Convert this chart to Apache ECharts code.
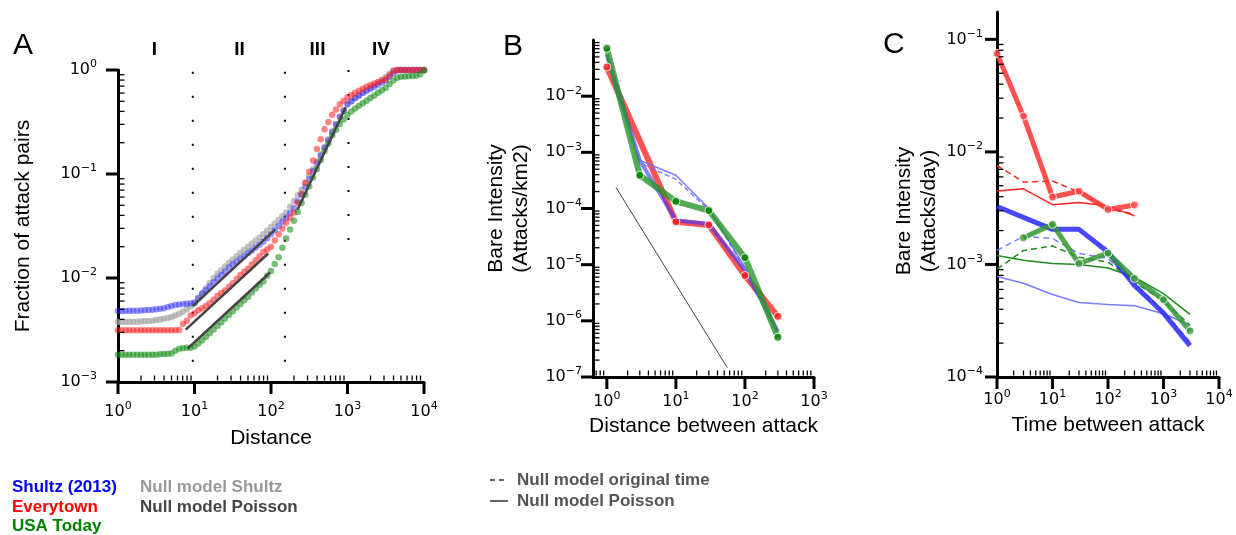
<!DOCTYPE html>
<html><head><meta charset="utf-8">
<script src="https://cdn.jsdelivr.net/npm/echarts@6/dist/echarts.min.js"></script>
<style>html,body{margin:0;padding:0;background:#fff}#c{width:1236px;height:535px}</style>
</head><body><div id="c"></div>
<script>
// ---------- Panel A: cumulative fraction of attack pairs vs distance ----------
const distance = [1,1.12,1.26,1.41,1.58,1.78,2,2.24,2.51,2.82,3.16,3.55,3.98,4.47,5.01,5.62,6.31,7.08,7.94,8.91,
  10,11.2,12.6,14.1,15.8,17.8,20,22.4,25.1,28.2,31.6,35.5,39.8,44.7,50.1,56.2,63.1,70.8,79.4,89.1,
  100,112,126,141,158,178,200,224,251,282,316,355,398,447,501,562,631,708,794,891,
  1000,1122,1259,1413,1585,1778,1995,2239,2512,2818,3162,3548,3981,4467,5012,5623,6310,7079,7943,8913,10000];
const shultzFrac = [0.00482,0.00482,0.00482,0.00483,0.00484,0.00485,0.00488,0.0049,0.00492,0.00495,
  0.00501,0.00507,0.00513,0.00525,0.00537,0.0055,0.00556,0.00562,0.00565,0.00571,
  0.00582,0.00646,0.00708,0.00767,0.00832,0.00912,0.00989,0.0107,0.0115,0.0126,
  0.0135,0.0143,0.0153,0.0162,0.0174,0.0184,0.0197,0.0209,0.0224,0.0243,
  0.0263,0.0288,0.0316,0.0347,0.038,0.0422,0.0468,0.0543,0.0631,0.075,
  0.0891,0.106,0.126,0.15,0.178,0.211,0.251,0.299,0.355,0.407,
  0.468,0.501,0.537,0.569,0.603,0.631,0.661,0.692,0.724,0.759,
  0.794,0.861,0.933,0.989,1,1,1,1,1,1,1];
const nullShultzFrac = [0.00378,0.00378,0.00378,0.00379,0.0038,0.0038,0.00382,0.00385,0.00387,0.00389,
  0.00394,0.00398,0.00405,0.00412,0.00422,0.00435,0.00452,0.00473,0.00501,0.00531,
  0.00569,0.00631,0.00708,0.00794,0.00891,0.01,0.011,0.0119,0.0129,0.014,
  0.0151,0.0162,0.0174,0.0186,0.02,0.0214,0.0229,0.0245,0.0263,0.0285,
  0.0309,0.0335,0.0363,0.0394,0.0427,0.0484,0.055,0.0624,0.0708,0.0822,
  0.0955,0.112,0.132,0.155,0.182,0.216,0.257,0.302,0.355,0.407,
  0.468,0.501,0.537,0.569,0.603,0.638,0.676,0.716,0.759,0.804,
  0.851,0.923,0.989,1,1,1,1,1,1,1,1];
const everytownFrac = [0.00315,0.00315,0.00315,0.00315,0.00315,0.00315,0.00315,0.00315,0.00315,0.00315,
  0.00315,0.00315,0.00315,0.00315,0.00315,0.00315,0.00316,0.00363,0.00389,0.00437,
  0.00457,0.0049,0.00513,0.00537,0.00575,0.00617,0.00676,0.00716,0.00759,0.00822,
  0.00891,0.00977,0.0107,0.0115,0.0123,0.0135,0.0148,0.0162,0.0178,0.0188,
  0.02,0.0229,0.0263,0.0299,0.0339,0.038,0.0427,0.0525,0.0646,0.0822,
  0.105,0.135,0.174,0.216,0.269,0.316,0.372,0.417,0.468,0.507,
  0.543,0.575,0.603,0.631,0.661,0.692,0.716,0.741,0.767,0.794,
  0.822,0.891,0.977,1,1,1,1,1,1,1,1];
const usaTodayFrac = [0.00183,0.00183,0.00183,0.00183,0.00183,0.00183,0.00183,0.00183,0.00183,0.00183,
  0.00183,0.00185,0.00186,0.00187,0.00188,0.002,0.00209,0.00211,0.00213,0.00214,
  0.00219,0.00234,0.00251,0.00272,0.00295,0.0032,0.00347,0.00376,0.00407,0.00442,
  0.00479,0.00519,0.00562,0.0061,0.00661,0.00724,0.00794,0.00861,0.00933,0.0105,
  0.0117,0.0136,0.0158,0.0195,0.024,0.0292,0.0355,0.0432,0.0525,0.0631,
  0.0759,0.0923,0.112,0.136,0.166,0.197,0.234,0.266,0.302,0.335,
  0.372,0.398,0.427,0.452,0.479,0.507,0.537,0.569,0.603,0.638,
  0.676,0.733,0.794,0.841,0.861,0.867,0.871,0.875,0.881,0.912,0.99];
// Null model Poisson fits (segment end points)
const poissonFitA = [
  [[9.5,0.00536],[114,0.0293]],
  [[7.67,0.00319],[92,0.0172]],
  [[8.15,0.0021],[97,0.0113]],
  [[223,0.0456],[947,0.4375]]
];
// regime boundaries (dotted lines) and labels
const regimeX = [9.5, 152, 1030];
const regimeTop = [0.96, 0.96, 1];
const regimeBottom = [0.00156, 0.00156, 0.0148];
const regimeLabels = ['I', 'II', 'III', 'IV'];

// ---------- Panel B: bare intensity vs distance ----------
const bDist = [1,3,10,30,100,300];
const bDistRed = [1,10,30,100,300];
const bEverytown = [0.033,5.8e-5,5.1e-5,6.4e-6,1.2e-6];
const bUsaToday = [0.071,3.9e-4,1.34e-4,9.2e-5,1.33e-5,5.1e-7];
const bShultz = [0.055,7.2e-4,6.2e-5,5.3e-5,8e-6,6.5e-7];
const bShultzNullPoisson = [0.05,7.2e-4,3.9e-4,1.0e-4,9e-6,6.8e-7];
const bShultzNullTime = [0.045,6.5e-4,3.3e-4,9.5e-5,8.5e-6,6.5e-7];
const bGuide = [[1.36,2.36e-4],[55.6,1.46e-7]];

// ---------- Panel C: bare intensity vs time ----------
const cTime = [1,3,10,30,100,300,1000,3000];
const cTimeRed = [1,3,10,30,100,300];
const cTimeBlue = [1,10,30,100,300,1000,3000];
const cTimeGreen = [3,10,30,100,300,1000,3000];
const cEverytown = [0.075,0.0208,0.00397,0.00447,0.00308,0.00338];
const cEverytownNullTime = [0.0076,0.0054,0.0055,0.0044,0.0031,0.0028];
const cEverytownNullPoisson = [0.0045,0.0047,0.0034,0.00355,0.0033,0.0027];
const cShultz = [0.00327,0.00205,0.00205,0.00129,6.5e-4,3.7e-4,1.9e-4];
const cShultzNullTime = [1.33e-3,1.78e-3,1.7e-3,1.25e-3,1.13e-3,6.9e-4,3.8e-4,2.05e-4];
const cShultzNullPoisson = [7.8e-4,6.8e-4,5.4e-4,4.6e-4,4.4e-4,4.3e-4,3.65e-4,2.9e-4];
const cUsaToday = [1.73e-3,2.27e-3,1.02e-3,1.26e-3,7.5e-4,4.86e-4,2.57e-4];
const cUsaTodayNullTime = [9.1e-4,1.33e-3,1.46e-3,1.16e-3,1.05e-3,7e-4,4.7e-4,2.9e-4];
const cUsaTodayNullPoisson = [1.2e-3,1.09e-3,1.02e-3,1.0e-3,9.3e-4,7.7e-4,5.5e-4,3.6e-4];

// ---------- axis tick values ----------
const aMajorX = [1,10,100,1000,10000], aMajorY = [0.001,0.01,0.1,1];
const bMajorX = [1,10,100,1000], bMajorY = [1e-7,1e-6,1e-5,1e-4,1e-3,1e-2];
const cMajorX = [1,10,100,1000,10000], cMajorY = [1e-4,1e-3,1e-2,1e-1];
const axisRange = { A:{x:[1,10000], y:[0.001,1]}, B:{x:[0.63,1000], y:[1e-7,0.1]}, C:{x:[1,10000], y:[1e-4,0.175]} };

function minors(lo, hi) {
  const out = [];
  for (let e = Math.floor(Math.log10(lo)); e <= Math.ceil(Math.log10(hi)); e++)
    for (let m = 2; m <= 9; m++) { const v = +(m * Math.pow(10, e)).toPrecision(3); if (v > lo * 1.0001 && v < hi * 0.9999) out.push(v); }
  return out;
}
const zip = (xs, ys) => xs.map((x, i) => [x, ys[i]]);
const supIn = labels => v => {
  if (!labels.some(t => Math.abs(t / v - 1) < 1e-6)) return '';
  const e = Math.round(Math.log10(v));
  return '{b|10}{s|' + (e < 0 ? '\u2212' + (-e) : e) + '}';
};
const rich = { b:{fontFamily:'DejaVu Sans', fontSize:16, lineHeight:22, color:'#000'}, s:{fontFamily:'DejaVu Sans', fontSize:11, lineHeight:14, verticalAlign:'top', color:'#000'} };
const TF = 'Liberation Sans';

function xAx(gi, r, labels, name, gap, margin) {
  return { type:'log', logBase:10, gridIndex:gi, min:r[0], max:r[1], position:'bottom',
    axisLine:{show:true, onZero:false, lineStyle:{color:'#000', width:3}}, axisTick:{show:false}, splitLine:{show:false}, minorTick:{show:false},
    axisLabel:{formatter:supIn(labels), rich:rich, margin:margin, showMinLabel:true, showMaxLabel:true},
    name:name, nameLocation:'middle', nameGap:gap, nameTextStyle:{fontFamily:TF, fontSize:21, color:'#000'} };
}
function yAx(gi, r, labels, name, gap, margin, pad) {
  return { type:'log', logBase:10, gridIndex:gi, min:r[0], max:r[1], position:'left',
    axisLine:{show:true, onZero:false, lineStyle:{color:'#000', width:3}}, axisTick:{show:false}, splitLine:{show:false}, minorTick:{show:false},
    axisLabel:{formatter:supIn(labels), rich:rich, margin:margin, showMinLabel:true, showMaxLabel:true},
    name:name, nameLocation:'middle', nameGap:gap, nameTextStyle:{fontFamily:TF, fontSize:21, color:'#000', lineHeight:25, padding:pad || 0} };
}
function tickSeries(gi, dim, vals, other, size, offset) {
  return { type:'scatter', xAxisIndex:gi, yAxisIndex:gi, silent:true, clip:false, z:6,
    data: vals.map(v => dim === 'x' ? [v, other] : [other, v]),
    symbol:'rect', symbolSize:size, symbolOffset:offset, itemStyle:{color:'#000', opacity:1} };
}
function ticksFor(gi, R, mx, my) {
  return [
    tickSeries(gi, 'x', mx, R.y[0], [3, 12], [0, 6]),
    tickSeries(gi, 'x', minors(R.x[0], R.x[1]), R.y[0], [1.3, 5], [0, -4]),
    tickSeries(gi, 'y', my, R.x[0], [12, 3], [-6, 0]),
    tickSeries(gi, 'y', minors(R.y[0], R.y[1]), R.x[0], [5, 1.3], [4, 0])
  ];
}
function line(gi, xs, ys, color, width, dash, z) {
  return { type:'line', xAxisIndex:gi, yAxisIndex:gi, data:zip(xs, ys), showSymbol:false, symbol:'none', z:z || 2,
    lineStyle:{color:color, width:width, type:dash || 'solid'}, silent:true };
}
function markers(gi, xs, ys, color, z) {
  return { type:'scatter', xAxisIndex:gi, yAxisIndex:gi, data:zip(xs, ys), symbol:'circle', symbolSize:8, z:z || 4,
    itemStyle:{color:color, borderColor:'#fff', borderWidth:1}, silent:true };
}
function dots(gi, ys, color) {
  return { type:'scatter', xAxisIndex:gi, yAxisIndex:gi, data:zip(distance, ys), symbol:'circle', symbolSize:6.5,
    itemStyle:{color:color}, silent:true, z:2 };
}

const series = [];
// Panel A
series.push(dots(0, nullShultzFrac, 'rgba(165,165,165,0.85)'));
series.push(dots(0, shultzFrac, 'rgba(40,40,255,0.6)'));
series.push(dots(0, everytownFrac, 'rgba(255,30,30,0.68)'));
series.push(dots(0, usaTodayFrac, 'rgba(20,140,20,0.72)'));
poissonFitA.forEach(seg => series.push({ type:'line', xAxisIndex:0, yAxisIndex:0, data:seg, symbol:'none', z:4, silent:true, lineStyle:{color:'#444', width:2.5} }));
regimeX.forEach((x, i) => series.push({ type:'line', xAxisIndex:0, yAxisIndex:0, data:[[x, regimeTop[i]],[x, regimeBottom[i]]], symbol:'none', z:1, silent:true,
  lineStyle:{color:'#000', width:2, type:[2, 22], cap:'butt'} }));
// Panel B
series.push(line(1, bDistRed, bEverytown, 'rgba(255,40,40,0.8)', 6, 'solid', 2));
series.push(line(1, bDist, bShultz, 'rgba(50,50,255,0.6)', 4, 'solid', 3));
series.push(line(1, bDist, bShultzNullPoisson, 'rgba(110,110,255,0.9)', 1.5, 'solid', 3));
series.push(line(1, bDist, bShultzNullTime, 'rgba(110,110,255,0.9)', 1.5, [5, 3], 3));
series.push(line(1, bDist, bUsaToday, 'rgba(40,150,40,0.8)', 6, 'solid', 3));
series.push(markers(1, bDistRed, bEverytown, '#ff1a1a', 4));
series.push(markers(1, bDist, bUsaToday, '#008000', 4));
series.push({ type:'line', xAxisIndex:1, yAxisIndex:1, data:bGuide, symbol:'none', silent:true, lineStyle:{color:'#444', width:1} });
// Panel C
series.push(line(2, cTime, cShultzNullPoisson, 'rgba(110,110,255,0.9)', 1.5, 'solid', 2));
series.push(line(2, cTime, cShultzNullTime, 'rgba(110,110,255,0.9)', 1.5, [6, 4], 2));
series.push(line(2, cTime, cUsaTodayNullPoisson, '#1e8c1e', 1.5, 'solid', 2));
series.push(line(2, cTime, cUsaTodayNullTime, '#1e8c1e', 1.5, [6, 4], 2));
series.push(line(2, cTimeRed, cEverytownNullPoisson, '#ff2020', 1.5, 'solid', 2));
series.push(line(2, cTimeRed, cEverytownNullTime, '#ff2020', 1.5, [6, 4], 2));
series.push(line(2, cTimeBlue, cShultz, 'rgba(40,40,255,0.85)', 5, 'solid', 3));
series.push(line(2, cTimeGreen, cUsaToday, 'rgba(50,150,50,0.85)', 5, 'solid', 3));
series.push(line(2, cTimeRed, cEverytown, 'rgba(255,60,60,0.9)', 5, 'solid', 3));
series.push(markers(2, cTimeGreen, cUsaToday, '#3d9a3d', 4));
series.push(markers(2, cTimeRed, cEverytown, '#ff4a4a', 4));
// axis ticks
series.push(...ticksFor(0, axisRange.A, aMajorX, aMajorY));
series.push(...ticksFor(1, axisRange.B, bMajorX, bMajorY));
series.push(...ticksFor(2, axisRange.C, cMajorX, cMajorY));

const txt = (x, y, text, font, fill, align) => ({ type:'text', x:x, y:y, silent:true, z:10,
  style:{ text:text, font:font, fill:fill, align:align || 'left', verticalAlign:'middle' } });
const graphic = [
  txt(13, 46, 'A', '30px "Liberation Sans"', '#000'),
  txt(503, 47, 'B', '30px "Liberation Sans"', '#000'),
  txt(883, 45, 'C', '30px "Liberation Sans"', '#000'),
  txt(154.5, 50, regimeLabels[0], 'bold 19px "Liberation Sans"', '#000', 'center'),
  txt(239.5, 50, regimeLabels[1], 'bold 19px "Liberation Sans"', '#000', 'center'),
  txt(317.5, 50, regimeLabels[2], 'bold 19px "Liberation Sans"', '#000', 'center'),
  txt(381, 50, regimeLabels[3], 'bold 19px "Liberation Sans"', '#000', 'center'),
  txt(12, 487, 'Shultz (2013)', 'bold 17px "Liberation Sans"', '#0000ff'),
  txt(12, 507, 'Everytown', 'bold 17px "Liberation Sans"', '#ff0000'),
  txt(12, 526, 'USA Today', 'bold 17px "Liberation Sans"', '#008000'),
  txt(140, 487, 'Null model Shultz', 'bold 17px "Liberation Sans"', '#999999'),
  txt(140, 507, 'Null model Poisson', 'bold 17px "Liberation Sans"', '#444444'),
  { type:'line', silent:true, shape:{x1:490, y1:480, x2:508, y2:480}, style:{stroke:'#333', lineWidth:1.5, lineDash:[5, 4]} },
  txt(517, 480, 'Null model original time', 'bold 17px "Liberation Sans"', '#555555'),
  { type:'line', silent:true, shape:{x1:490, y1:501, x2:508, y2:501}, style:{stroke:'#333', lineWidth:1.5} },
  txt(517, 501, 'Null model Poisson', 'bold 17px "Liberation Sans"', '#555555')
];

const chart = echarts.init(document.getElementById('c'), null, {renderer:'canvas'});
chart.setOption({
  animation:false,
  backgroundColor:'#ffffff',
  grid:[
    {left:118, top:70, width:306, height:312, containLabel:false, outerBoundsMode:'none'},
    {left:593, top:40, width:221, height:337, containLabel:false, outerBoundsMode:'none'},
    {left:997, top:12, width:222, height:365, containLabel:false, outerBoundsMode:'none'}
  ],
  xAxis:[
    xAx(0, axisRange.A.x, aMajorX, 'Distance', 46, 19),
    xAx(1, axisRange.B.x, bMajorX, 'Distance between attack', 39, 14),
    xAx(2, axisRange.C.x, cMajorX, 'Time between attack', 38, 12)
  ],
  yAxis:[
    yAx(0, axisRange.A.y, aMajorY, 'Fraction of attack pairs', 82, 21),
    yAx(1, axisRange.B.y, bMajorY, 'Bare Intensity\n(Attacks/km2)', 59, 11),
    yAx(2, axisRange.C.y, cMajorY, 'Bare Intensity\n(Attacks/day)', 55, 14, [0, 33, 0, 0])
  ],
  series:series,
  graphic:graphic
});
</script></body></html>
